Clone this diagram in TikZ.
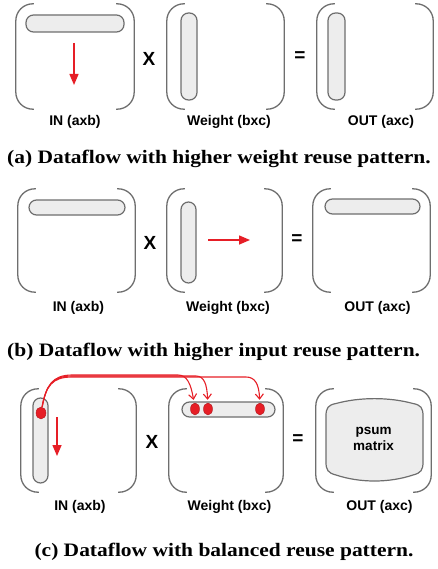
\documentclass[tikz,border=0pt]{standalone}
\usepackage{fontspec}
\setmainfont{Liberation Serif}
\setsansfont{Liberation Sans}
\newfontfamily\captionface[FakeStretch=1.13]{Liberation Serif}
\usetikzlibrary{arrows.meta,shapes.geometric}

\definecolor{brk}{HTML}{6E6E6E}
\definecolor{pillfill}{HTML}{EDEDED}
\definecolor{flow}{HTML}{E61E26}

% open-sided matrix brackets around a named box
\newcommand\matbrackets[1]{%
  \draw[bracket] ([xshift=18pt]#1.north west) -- (#1.north west) -- (#1.south west) -- ([xshift=18pt]#1.south west);
  \draw[bracket] ([xshift=-18pt]#1.north east) -- (#1.north east) -- (#1.south east) -- ([xshift=-18pt]#1.south east);}

\begin{document}
\begin{tikzpicture}[x=1pt,y=-1pt,
  mat/.style 2 args={inner sep=0pt, minimum width=#1, minimum height=#2},
  bracket/.style={draw=brk, line width=1.3pt, rounded corners=17pt},
  pill/.style={draw=brk, fill=pillfill, line width=1.2pt, inner sep=0pt, rounded corners=7.5pt},
  lbl/.style={anchor=base, inner sep=0pt, font=\sffamily\bfseries\fontsize{14}{16}\selectfont},
  op/.style={inner sep=0pt, font=\sffamily\bfseries\fontsize{19}{20}\selectfont},
  capt/.style={anchor=base west, inner sep=0pt, font=\captionface\bfseries\fontsize{19}{21}\selectfont},
  flowarrow/.style={draw=flow, line width=1.5pt, -{Triangle[length=11pt,width=9pt]}},
  reuse/.style={draw=flow, line width=1.1pt, -{Straight Barb[length=5pt,width=8pt]}, shorten >=3pt},
  dot/.style={ellipse, fill=flow, draw=flow!75!black, line width=0.4pt, minimum width=9pt, minimum height=12pt, inner sep=0pt}]

\useasboundingbox (0,0) rectangle (437,569);

% ---------- (a) weight reuse ----------
\node[mat={118}{105}] (inA) at (75,56.5) {};
\node[mat={117}{105}] (wA) at (225.5,56.5) {};
\node[mat={116}{105}] (outA) at (375,56.5) {};
\matbrackets{inA}\matbrackets{wA}\matbrackets{outA}
\node[pill, minimum width=98, minimum height=17] (rowA) at (75,23.5) {};
\node[pill, minimum width=16, minimum height=87] (colWA) at (189,56.5) {};
\node[pill, minimum width=17, minimum height=87] (colOA) at (336.5,56.5) {};
\coordinate (aS) at (74,43);
\coordinate (aE) at (74,85);
\draw[flowarrow] (aS) -- (aE);
\node[op] (mulA) at (149,58.5) {X};
\node[op] (eqA) at (300,57) {=};
\node[lbl] (lInA) at (75,126) {IN (axb)};
\node[lbl] (lWA) at (229,126) {Weight (bxc)};
\node[lbl] (lOA) at (381,126) {OUT (axc)};
\node[capt] (capA) at (7,164) {(a) Dataflow with higher weight reuse pattern.};

% ---------- (b) input reuse ----------
\node[mat={117}{103}] (inB) at (76.5,240.5) {};
\node[mat={115}{103}] (wB) at (224.5,240.5) {};
\node[mat={117}{103}] (outB) at (371.5,240.5) {};
\matbrackets{inB}\matbrackets{wB}\matbrackets{outB}
\node[pill, minimum width=96, minimum height=15] (rowB) at (77,207.5) {};
\node[pill, minimum width=15, minimum height=81] (colWB) at (188.5,242.5) {};
\node[pill, minimum width=95, minimum height=15] (rowOB) at (372.5,206.5) {};
\coordinate (bS) at (208,240);
\coordinate (bE) at (250,240);
\draw[flowarrow] (bS) -- (bE);
\node[op] (mulB) at (150,243) {X};
\node[op] (eqB) at (297,240) {=};
\node[lbl] (lInB) at (78.5,311) {IN (axb)};
\node[lbl] (lWB) at (228,311) {Weight (bxc)};
\node[lbl] (lOB) at (377.5,311) {OUT (axc)};
\node[capt] (capB) at (7,356) {(b) Dataflow with higher input reuse pattern.};

% ---------- (c) balanced reuse ----------
\node[mat={115}{103}] (inC) at (78.5,440.5) {};
\node[mat={114}{103}] (wC) at (226,440.5) {};
\node[mat={115}{103}] (outC) at (373.5,440.5) {};
\matbrackets{inC}\matbrackets{wC}\matbrackets{outC}
\node[pill, minimum width=15, minimum height=85] (colIC) at (40.5,440.5) {};
\node[pill, minimum width=93, minimum height=15] (rowWC) at (228.5,409.5) {};
\coordinate (cS) at (57,417);
\coordinate (cE) at (57,456);
\draw[flowarrow] (cS) -- (cE);
% partial-sum tile
\draw[draw=brk, fill=pillfill, line width=1.2pt]
  (326,416) .. controls (326,408) and (328,405) .. (336,403.5)
  .. controls (360,397) and (389,397) .. (413,403.5)
  .. controls (421,405) and (423,408) .. (423,416) -- (423,462)
  .. controls (423,470) and (421,473) .. (413,475)
  .. controls (389,483) and (360,483) .. (336,475)
  .. controls (328,473) and (326,470) .. (326,462) -- cycle;
\node[inner sep=0pt, align=center, font=\sffamily\bfseries\fontsize{13.5}{16.5}\selectfont] (psum) at (373.5,439) {psum\\matrix};
% element dots and their broadcast paths
\node[dot, minimum width=10pt] (d0) at (41,413) {};
\node[dot] (d1) at (195,409) {};
\node[dot] (d2) at (208,409) {};
\node[dot] (d3) at (260,409) {};
\draw[reuse] (d0) .. controls (46,386) and (52,375) .. (72,375) -- (178,375)
  .. controls (187,375) and (191,384) .. (d1);
\draw[reuse] (d0) .. controls (46,386) and (52,376) .. (72,376) -- (196,376)
  .. controls (204,376) and (207,384) .. (d2);
\draw[reuse] (d0) .. controls (46,386) and (52,377) .. (72,377) -- (246,377)
  .. controls (255,377) and (259,384) .. (d3);
\node[op] (mulC) at (152,442) {X};
\node[op] (eqC) at (298,440) {=};
\node[lbl] (lInC) at (80,510) {IN (axb)};
\node[lbl] (lWC) at (229.5,510) {Weight (bxc)};
\node[lbl] (lOC) at (379.5,510) {OUT (axc)};
\node[capt, anchor=base] (capC) at (224,556) {(c) Dataflow with balanced reuse pattern.};
\end{tikzpicture}
\end{document}
